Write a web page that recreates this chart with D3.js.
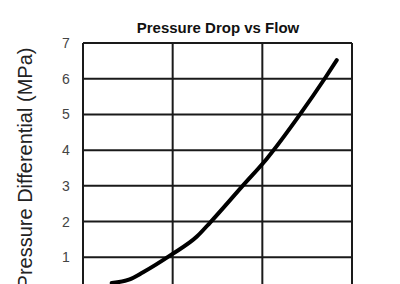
<!DOCTYPE html>
<html>
<head>
<meta charset="utf-8">
<script src="https://d3js.org/d3.v7.min.js"></script>
<style>
  body { margin: 0; background: #fff; }
  text { font-family: "Liberation Sans", Arial, sans-serif; }
</style>
</head>
<body>
<script>
// flow (grid units) vs pressure differential (MPa)
var flow = [0.32, 0.52, 0.67, 0.99, 1.27, 1.42, 1.78, 2.05, 2.42, 2.70, 2.83];
var pressure = [0.28, 0.38, 0.58, 1.08, 1.58, 1.98, 3.0, 3.76, 5.0, 6.02, 6.52];
var yTicks = [0, 1, 2, 3, 4, 5, 6, 7];
var xTicks = [0, 1, 2, 3];

var width = 400, height = 284;
var margin = {top: 43, left: 83, right: 48, bottom: -9};

var svg = d3.select("body").append("svg")
    .attr("width", width)
    .attr("height", height);

var x = d3.scaleLinear()
    .domain([0, 3])
    .range([margin.left, width - margin.right]);

var y = d3.scaleLinear()
    .domain([0, 7])
    .range([height - margin.bottom, margin.top]);

// gridlines
svg.append("g")
  .selectAll("line")
  .data(yTicks)
  .enter().append("line")
    .attr("x1", x(0)).attr("x2", x(3))
    .attr("y1", function(d) { return y(d); })
    .attr("y2", function(d) { return y(d); })
    .attr("stroke", "#1a1a1a")
    .attr("stroke-width", 2);

svg.append("g")
  .selectAll("line")
  .data(xTicks)
  .enter().append("line")
    .attr("y1", y(0)).attr("y2", y(7))
    .attr("x1", function(d) { return x(d); })
    .attr("x2", function(d) { return x(d); })
    .attr("stroke", "#1a1a1a")
    .attr("stroke-width", 2);

// y tick labels (0 sits below the visible area)
svg.append("g")
  .selectAll("text")
  .data(yTicks.filter(function(d) { return d > 0; }))
  .enter().append("text")
    .attr("x", 66)
    .attr("y", function(d) { return y(d) + 5; })
    .attr("text-anchor", "middle")
    .attr("font-size", 14)
    .attr("fill", "#444")
    .text(function(d) { return d; });

// curve
var pts = flow.map(function(f, i) { return [f, pressure[i]]; });
var line = d3.line()
    .x(function(d) { return x(d[0]); })
    .y(function(d) { return y(d[1]); })
    .curve(d3.curveMonotoneX);

svg.append("path")
    .datum(pts)
    .attr("fill", "none")
    .attr("stroke", "#000")
    .attr("stroke-width", 4)
    .attr("stroke-linecap", "round")
    .attr("d", line);

// title
svg.append("text")
    .attr("x", 218)
    .attr("y", 33)
    .attr("text-anchor", "middle")
    .attr("font-size", 15)
    .attr("font-weight", "bold")
    .attr("fill", "#111")
    .text("Pressure Drop vs Flow");

// y label
svg.append("text")
    .attr("transform", "translate(32," + ((y(0) + y(7)) / 2) + ") rotate(-90)")
    .attr("text-anchor", "middle")
    .attr("font-size", 20)
    .attr("fill", "#222")
    .text("Pressure Differential (MPa)");
</script>
</body>
</html>
